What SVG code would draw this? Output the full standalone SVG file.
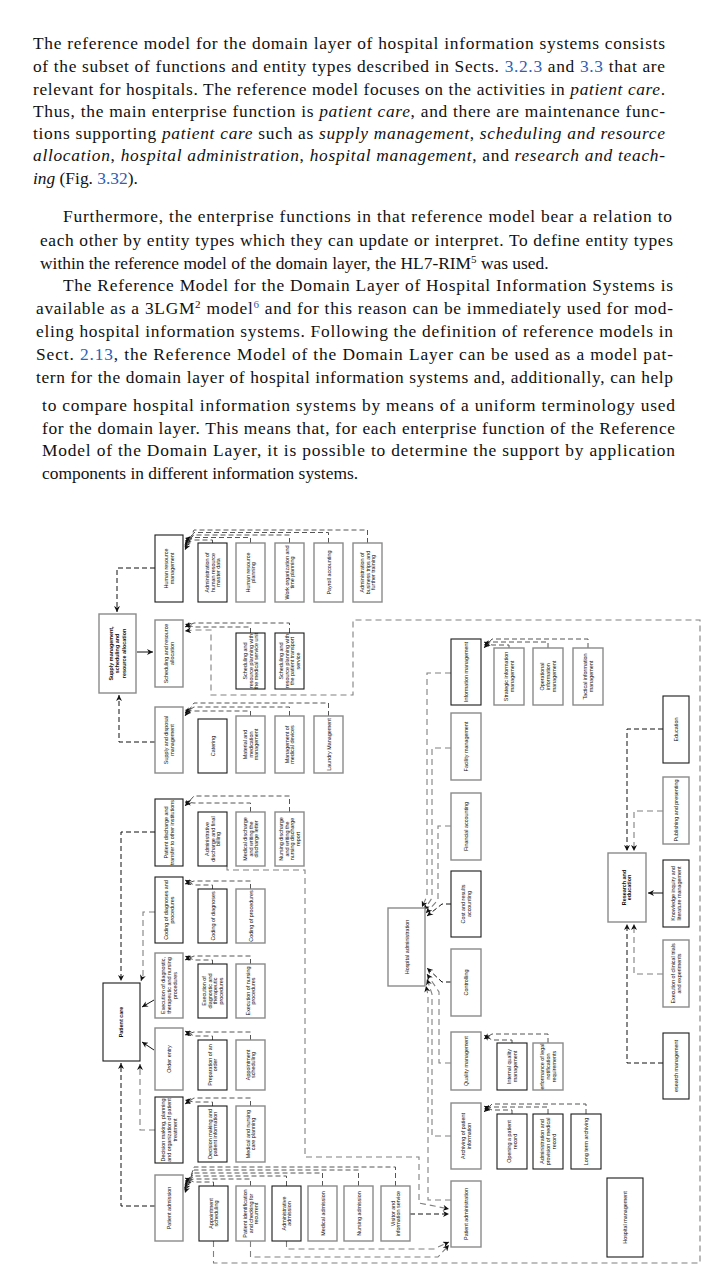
<svg xmlns="http://www.w3.org/2000/svg" width="725" height="1283" viewBox="0 0 725 1283">
<defs>
<style>
.p{font-family:"Liberation Serif","Times New Roman",serif;font-size:17.4px;fill:#111}
.i{font-style:italic}
.lk{fill:#2f5fb3}
.b{fill:#fff;stroke:#8a8a8a;stroke-width:1.4}
.k{fill:#fff;stroke:#1a1a1a;stroke-width:1.1}
.t{font-family:"Liberation Sans",Arial,sans-serif;font-size:5.4px;fill:#111;text-anchor:middle}
.tb{font-weight:bold}
.d{fill:none;stroke:#111;stroke-width:1;stroke-dasharray:5 3}
.e{fill:none;stroke:#555;stroke-width:1;stroke-dasharray:5 3}
.g{fill:none;stroke:#808080;stroke-width:1.1;stroke-dasharray:6 4}
.s{fill:none;stroke:#111;stroke-width:1}
</style>
<marker id="ah" viewBox="0 0 10 10" refX="10" refY="5" markerWidth="7" markerHeight="6" markerUnits="userSpaceOnUse" orient="auto"><path d="M0,0L10,5L0,10L3,5Z" fill="#111"/></marker>
</defs>
<rect width="725" height="1283" fill="#fff"/>

<g id="text">
<text class="p" x="33" y="48.5" textLength="632" lengthAdjust="spacing">The reference model for the domain layer of hospital information systems consists</text>
<text class="p" x="33" y="71.5" textLength="632" lengthAdjust="spacing">of the subset of functions and entity types described in Sects. <tspan class="lk">3.2.3</tspan> and <tspan class="lk">3.3</tspan> that are</text>
<text class="p" x="33" y="94.5" textLength="632" lengthAdjust="spacing">relevant for hospitals. The reference model focuses on the activities in <tspan class="i">patient care</tspan>.</text>
<text class="p" x="33" y="116.5" textLength="632" lengthAdjust="spacing">Thus, the main enterprise function is <tspan class="i">patient care</tspan>, and there are maintenance func-</text>
<text class="p" x="33" y="138.5" textLength="632" lengthAdjust="spacing">tions supporting <tspan class="i">patient care</tspan> such as <tspan class="i">supply management</tspan>, <tspan class="i">scheduling and resource</tspan></text>
<text class="p" x="33" y="160.5" textLength="632" lengthAdjust="spacing"><tspan class="i">allocation</tspan>, <tspan class="i">hospital administration</tspan>, <tspan class="i">hospital management</tspan>, and <tspan class="i">research and teach-</tspan></text>
<text class="p" x="33" y="183.5"><tspan class="i">ing</tspan> (Fig. <tspan class="lk">3.32</tspan>).</text>
<text class="p" x="63" y="221.5" textLength="609" lengthAdjust="spacing">Furthermore, the enterprise functions in that reference model bear a relation to</text>
<text class="p" x="40" y="245.5" textLength="633" lengthAdjust="spacing">each other by entity types which they can update or interpret. To define entity types</text>
<text class="p" x="40" y="268.5">within the reference model of the domain layer, the HL7-RIM<tspan dy="-6" font-size="11">5</tspan><tspan dy="6"> was used.</tspan></text>
<text class="p" x="63" y="290.5" textLength="610" lengthAdjust="spacing">The Reference Model for the Domain Layer of Hospital Information Systems is</text>
<text class="p" x="36" y="313.5" textLength="637" lengthAdjust="spacing">available as a 3LGM<tspan dy="-6" font-size="11">2</tspan><tspan dy="6"> model</tspan><tspan dy="-6" font-size="11" class="lk">6</tspan><tspan dy="6"> and for this reason can be immediately used for mod-</tspan></text>
<text class="p" x="36" y="336.5" textLength="637" lengthAdjust="spacing">eling hospital information systems. Following the definition of reference models in</text>
<text class="p" x="36" y="359.5" textLength="637" lengthAdjust="spacing">Sect. <tspan class="lk">2.13</tspan>, the Reference Model of the Domain Layer can be used as a model pat-</text>
<text class="p" x="36" y="382.5" textLength="637" lengthAdjust="spacing">tern for the domain layer of hospital information systems and, additionally, can help</text>
<text class="p" x="42" y="410.5" textLength="633" lengthAdjust="spacing">to compare hospital information systems by means of a uniform terminology used</text>
<text class="p" x="42" y="433.5" textLength="633" lengthAdjust="spacing">for the domain layer. This means that, for each enterprise function of the Reference</text>
<text class="p" x="42" y="455.5" textLength="633" lengthAdjust="spacing">Model of the Domain Layer, it is possible to determine the support by application</text>
<text class="p" x="42" y="478.5">components in different information systems.</text>
</g>

<g id="connectors">
<g marker-end="url(#ah)">
<path class="e" d="M212.5,543V540H194L185,538"/>
<path class="e" d="M250.5,543V537.5H194L185,541"/>
<path class="e" d="M289.5,543V535H194L185,544"/>
<path class="e" d="M328.5,543V532.5H194L185,547"/>
<path class="e" d="M367.5,543V530H194L185,550"/>
<path class="e" d="M250.5,633V627H194L185,624"/>
<path class="e" d="M289.5,633V623H194L185,627"/>
<path class="g" d="M213.5,1241V1263H700V620H353V695H211V630H194L185,631"/>
<path class="e" d="M250.5,716V711H194L185,710"/>
<path class="e" d="M289.5,716V707H194L185,713"/>
<path class="e" d="M328.5,716V703H194L185,716"/>
<path class="e" d="M250.5,812V803H194L185,802"/>
<path class="e" d="M289.5,812V796H194L185,806"/>
<path class="e" d="M212.5,889V885H194L185,880"/>
<path class="e" d="M250.5,889V881H194L185,884"/>
<path class="e" d="M212.5,964V960H194L185,956"/>
<path class="e" d="M250.5,964V956H194L185,960"/>
<path class="e" d="M212.5,1040V1036H194L185,1031"/>
<path class="e" d="M250.5,1040V1032H194L185,1035"/>
<path class="e" d="M212.5,1106V1102H194L185,1100"/>
<path class="e" d="M250.5,1106V1098H194L185,1104"/>
<path class="e" d="M213.5,1186V1182H194L185,1178"/>
<path class="e" d="M250.5,1186V1179H194L185,1181"/>
<path class="e" d="M286.5,1186V1176H194L185,1184"/>
<path class="e" d="M322.5,1186V1173H194L185,1187"/>
<path class="e" d="M358.5,1186V1170H194L185,1190"/>
<path class="e" d="M395.5,1186V1167H194L185,1193"/>
<path class="e" d="M509,648V645H492L484,642"/>
<path class="e" d="M548,648V642H492L484,645"/>
<path class="e" d="M588,648V639H492L484,648"/>
<path class="e" d="M512,1043V1040H492L484,1035"/>
<path class="e" d="M548,1043V1034H492L484,1039"/>
<path class="e" d="M512,1114V1110H492L484,1106"/>
<path class="e" d="M548,1114V1107H492L484,1109"/>
<path class="e" d="M586,1114V1104H492L484,1112"/>
<path class="d" d="M663,729H627V851"/>
<path class="g" d="M663,811H634V851"/>
<path class="s" d="M663,893H648"/>
<path class="g" d="M663,974H634V924"/>
<path class="d" d="M663,1063H627V924"/>
<path class="d" d="M155,568H117V612"/>
<path class="s" d="M137,652H153"/>
<path class="d" d="M155,742H119V695"/>
<path class="d" d="M155,832H121V981"/>
<path class="g" d="M155,912H143V975L141,981"/>
<path class="s" d="M154,1000L142,1007"/>
<path class="s" d="M154,1050L142,1042"/>
<path class="g" d="M155,1130H140V1064"/>
<path class="d" d="M155,1206H121V1063"/>
<path class="g" d="M451,673H427V896L422,907"/>
<path class="g" d="M451,748H432V898L424,910"/>
<path class="g" d="M451,826H438V900L426,913"/>
<path class="d" d="M451,904H442L427,916"/>
<path class="d" d="M451,982H442L427,968"/>
<path class="g" d="M451,1063H439V992L427,974"/>
<path class="g" d="M451,1136H432V994L427,979"/>
<path class="g" d="M451,1200H428V995L426,986"/>
<path class="g" d="M227,866V870H305V1157H419V1203L449,1209"/>
<path class="d" d="M410,1214H449"/>
<path class="g" d="M250.5,1241V1257H438L449,1245"/>
<path class="g" d="M286.5,1241V1249H434L449,1242"/>
</g>
</g>

<g id="n-sms"><rect class="b" x="99" y="614" width="37" height="79"/><text class="t tb" font-size="5.6" transform="translate(117.5,653.5) rotate(-90)"><tspan x="0" dy="-5">Supply management,</tspan><tspan x="0" dy="6.5">scheduling and</tspan><tspan x="0" dy="6.5">resource allocation</tspan></text></g>
<g id="n-pc"><rect class="k" x="103" y="983" width="37" height="78"/><text class="t tb" font-size="4.6" transform="translate(121.5,1022) rotate(-90)"><tspan x="0" dy="1.6">Patient care</tspan></text></g>

<g id="n-hrm"><rect class="k" x="155" y="535" width="28" height="67"/><text class="t" transform="translate(169,568.5) rotate(-90)"><tspan x="0" dy="-1">Human resource</tspan><tspan x="0" dy="5.8">management</tspan></text></g>
<g id="n-hrm1"><rect class="k" x="198" y="543" width="29" height="59"/><text class="t" transform="translate(212.5,572.5) rotate(-90)"><tspan x="0" dy="-3.8">Administration of</tspan><tspan x="0" dy="5.8">human resource</tspan><tspan x="0" dy="5.8">master data</tspan></text></g>
<g id="n-hrm2"><rect class="b" x="236" y="543" width="29" height="59"/><text class="t" transform="translate(250.5,572.5) rotate(-90)"><tspan x="0" dy="-1">Human resource</tspan><tspan x="0" dy="5.8">planning</tspan></text></g>
<g id="n-hrm3"><rect class="b" x="275" y="543" width="29" height="59"/><text class="t" transform="translate(289.5,572.5) rotate(-90)"><tspan x="0" dy="-1">Work organization and</tspan><tspan x="0" dy="5.8">time planning</tspan></text></g>
<g id="n-hrm4"><rect class="b" x="314" y="543" width="29" height="59"/><text class="t" transform="translate(328.5,572.5) rotate(-90)"><tspan x="0" dy="2">Payroll accounting</tspan></text></g>
<g id="n-hrm5"><rect class="b" x="353" y="543" width="29" height="59"/><text class="t" transform="translate(367.5,572.5) rotate(-90)"><tspan x="0" dy="-3.8">Administration of</tspan><tspan x="0" dy="5.8">business trips and</tspan><tspan x="0" dy="5.8">further training</tspan></text></g>

<g id="n-sra"><rect class="b" x="155" y="620" width="28" height="67"/><text class="t" transform="translate(169,653.5) rotate(-90)"><tspan x="0" dy="-1">Scheduling and resource</tspan><tspan x="0" dy="5.8">allocation</tspan></text></g>
<g id="n-sra1"><rect class="k" x="236" y="633" width="29" height="56"/><text class="t" transform="translate(250.5,661) rotate(-90)"><tspan x="0" dy="-3.8">Scheduling and</tspan><tspan x="0" dy="5.8">resource planning with</tspan><tspan x="0" dy="5.8">the medical service unit</tspan></text></g>
<g id="n-sra2"><rect class="k" x="275" y="633" width="29" height="56"/><text class="t" transform="translate(289.5,661) rotate(-90)"><tspan x="0" dy="-6.7">Scheduling and</tspan><tspan x="0" dy="5.8">resource planning with</tspan><tspan x="0" dy="5.8">the patient transport</tspan><tspan x="0" dy="5.8">service</tspan></text></g>

<g id="n-sdm"><rect class="b" x="155" y="707" width="28" height="66"/><text class="t" transform="translate(169,740) rotate(-90)"><tspan x="0" dy="-1">Supply and disposal</tspan><tspan x="0" dy="5.8">management</tspan></text></g>
<g id="n-sdm1"><rect class="k" x="198" y="719" width="29" height="54"/><text class="t" transform="translate(212.5,746) rotate(-90)"><tspan x="0" dy="2">Catering</tspan></text></g>
<g id="n-sdm2"><rect class="b" x="236" y="716" width="29" height="57"/><text class="t" transform="translate(250.5,744.5) rotate(-90)"><tspan x="0" dy="-3.8">Material and</tspan><tspan x="0" dy="5.8">medication</tspan><tspan x="0" dy="5.8">management</tspan></text></g>
<g id="n-sdm3"><rect class="b" x="275" y="716" width="29" height="57"/><text class="t" transform="translate(289.5,744.5) rotate(-90)"><tspan x="0" dy="-1">Management of</tspan><tspan x="0" dy="5.8">medical devices</tspan></text></g>
<g id="n-sdm4"><rect class="b" x="314" y="716" width="29" height="57"/><text class="t" transform="translate(328.5,744.5) rotate(-90)"><tspan x="0" dy="2">Laundry Management</tspan></text></g>

<g id="n-pdt"><rect class="k" x="155" y="799" width="28" height="67"/><text class="t" transform="translate(169,832.5) rotate(-90)"><tspan x="0" dy="-1">Patient discharge and</tspan><tspan x="0" dy="5.8">transfer to other institutions</tspan></text></g>
<g id="n-pdt1"><rect class="k" x="198" y="812" width="29" height="54"/><text class="t" transform="translate(212.5,839) rotate(-90)"><tspan x="0" dy="-3.8">Administrative</tspan><tspan x="0" dy="5.8">discharge and final</tspan><tspan x="0" dy="5.8">billing</tspan></text></g>
<g id="n-pdt2"><rect class="b" x="236" y="812" width="29" height="54"/><text class="t" transform="translate(250.5,839) rotate(-90)"><tspan x="0" dy="-3.8">Medical discharge</tspan><tspan x="0" dy="5.8">and writing the</tspan><tspan x="0" dy="5.8">discharge letter</tspan></text></g>
<g id="n-pdt3"><rect class="b" x="275" y="812" width="29" height="54"/><text class="t" transform="translate(289.5,839) rotate(-90)"><tspan x="0" dy="-6.7">Nursing discharge</tspan><tspan x="0" dy="5.8">and writing the</tspan><tspan x="0" dy="5.8">nursing discharge</tspan><tspan x="0" dy="5.8">report</tspan></text></g>

<g id="n-cdp"><rect class="k" x="155" y="877" width="28" height="66"/><text class="t" transform="translate(169,910) rotate(-90)"><tspan x="0" dy="-1">Coding of diagnoses and</tspan><tspan x="0" dy="5.8">procedures</tspan></text></g>
<g id="n-cdp1"><rect class="k" x="198" y="889" width="29" height="54"/><text class="t" transform="translate(212.5,916) rotate(-90)"><tspan x="0" dy="2">Coding of diagnoses</tspan></text></g>
<g id="n-cdp2"><rect class="b" x="236" y="889" width="29" height="54"/><text class="t" transform="translate(250.5,916) rotate(-90)"><tspan x="0" dy="2">Coding of procedures</tspan></text></g>

<g id="n-exe"><rect class="b" x="155" y="953" width="28" height="65"/><text class="t" transform="translate(169,985.5) rotate(-90)"><tspan x="0" dy="-3.8">Execution of diagnostic,</tspan><tspan x="0" dy="5.8">therapeutic and nursing</tspan><tspan x="0" dy="5.8">procedures</tspan></text></g>
<g id="n-exe1"><rect class="k" x="198" y="964" width="29" height="54"/><text class="t" transform="translate(212.5,991) rotate(-90)"><tspan x="0" dy="-6.7">Execution of</tspan><tspan x="0" dy="5.8">diagnostic and</tspan><tspan x="0" dy="5.8">therapeutic</tspan><tspan x="0" dy="5.8">procedures</tspan></text></g>
<g id="n-exe2"><rect class="b" x="236" y="964" width="29" height="54"/><text class="t" transform="translate(250.5,991) rotate(-90)"><tspan x="0" dy="-1">Execution of nursing</tspan><tspan x="0" dy="5.8">procedures</tspan></text></g>

<g id="n-ord"><rect class="b" x="155" y="1028" width="28" height="62"/><text class="t" transform="translate(169,1059) rotate(-90)"><tspan x="0" dy="2">Order entry</tspan></text></g>
<g id="n-ord1"><rect class="k" x="198" y="1040" width="29" height="50"/><text class="t" transform="translate(212.5,1065) rotate(-90)"><tspan x="0" dy="-1">Preparation of an</tspan><tspan x="0" dy="5.8">order</tspan></text></g>
<g id="n-ord2"><rect class="b" x="236" y="1040" width="29" height="50"/><text class="t" transform="translate(250.5,1065) rotate(-90)"><tspan x="0" dy="-1">Appointment</tspan><tspan x="0" dy="5.8">scheduling</tspan></text></g>

<g id="n-dec"><rect class="k" x="155" y="1097" width="28" height="66"/><text class="t" transform="translate(169,1130) rotate(-90)"><tspan x="0" dy="-3.8">Decision making, planning</tspan><tspan x="0" dy="5.8">and organization of patient</tspan><tspan x="0" dy="5.8">treatment</tspan></text></g>
<g id="n-dec1"><rect class="k" x="198" y="1106" width="29" height="56"/><text class="t" transform="translate(212.5,1134) rotate(-90)"><tspan x="0" dy="-1">Decision making and</tspan><tspan x="0" dy="5.8">patient information</tspan></text></g>
<g id="n-dec2"><rect class="b" x="236" y="1106" width="29" height="56"/><text class="t" transform="translate(250.5,1134) rotate(-90)"><tspan x="0" dy="-1">Medical and nursing</tspan><tspan x="0" dy="5.8">care planning</tspan></text></g>

<g id="n-adm"><rect class="b" x="155" y="1175" width="28" height="66"/><text class="t" transform="translate(169,1208) rotate(-90)"><tspan x="0" dy="2">Patient admission</tspan></text></g>
<g id="n-adm1"><rect class="k" x="199" y="1186" width="29" height="55"/><text class="t" transform="translate(213.5,1213.5) rotate(-90)"><tspan x="0" dy="-1">Appointment</tspan><tspan x="0" dy="5.8">scheduling</tspan></text></g>
<g id="n-adm2"><rect class="b" x="236" y="1186" width="29" height="55"/><text class="t" transform="translate(250.5,1213.5) rotate(-90)"><tspan x="0" dy="-3.8">Patient identification</tspan><tspan x="0" dy="5.8">and checking for</tspan><tspan x="0" dy="5.8">recurrent</tspan></text></g>
<g id="n-adm3"><rect class="k" x="272" y="1186" width="29" height="55"/><text class="t" transform="translate(286.5,1213.5) rotate(-90)"><tspan x="0" dy="-1">Administrative</tspan><tspan x="0" dy="5.8">admission</tspan></text></g>
<g id="n-adm4"><rect class="b" x="308" y="1186" width="29" height="55"/><text class="t" transform="translate(322.5,1213.5) rotate(-90)"><tspan x="0" dy="2">Medical admission</tspan></text></g>
<g id="n-adm5"><rect class="b" x="344" y="1186" width="29" height="55"/><text class="t" transform="translate(358.5,1213.5) rotate(-90)"><tspan x="0" dy="2">Nursing admission</tspan></text></g>
<g id="n-adm6"><rect class="b" x="381" y="1186" width="29" height="55"/><text class="t" transform="translate(395.5,1213.5) rotate(-90)"><tspan x="0" dy="-1">Visitor and</tspan><tspan x="0" dy="5.8">information service</tspan></text></g>

<g id="n-ha"><rect class="b" x="388" y="908" width="37" height="78"/><text class="t" transform="translate(406.5,947) rotate(-90)"><tspan x="0" dy="2">Hospital administration</tspan></text></g>

<g id="n-im"><rect class="k" x="451" y="639" width="30" height="66"/><text class="t" transform="translate(466,672) rotate(-90)"><tspan x="0" dy="2">Information management</tspan></text></g>
<g id="n-im1"><rect class="b" x="494" y="648" width="30" height="57"/><text class="t" transform="translate(509,676.5) rotate(-90)"><tspan x="0" dy="-1">Strategic information</tspan><tspan x="0" dy="5.8">management</tspan></text></g>
<g id="n-im2"><rect class="b" x="533" y="648" width="30" height="57"/><text class="t" transform="translate(548,676.5) rotate(-90)"><tspan x="0" dy="-3.8">Operational</tspan><tspan x="0" dy="5.8">information</tspan><tspan x="0" dy="5.8">management</tspan></text></g>
<g id="n-im3"><rect class="b" x="573" y="648" width="30" height="57"/><text class="t" transform="translate(588,676.5) rotate(-90)"><tspan x="0" dy="-1">Tactical information</tspan><tspan x="0" dy="5.8">management</tspan></text></g>
<g id="n-fm"><rect class="b" x="451" y="713" width="30" height="67"/><text class="t" transform="translate(466,746.5) rotate(-90)"><tspan x="0" dy="2">Facility management</tspan></text></g>
<g id="n-fa"><rect class="b" x="451" y="793" width="30" height="67"/><text class="t" transform="translate(466,826.5) rotate(-90)"><tspan x="0" dy="2">Financial accounting</tspan></text></g>
<g id="n-cra"><rect class="k" x="451" y="871" width="30" height="66"/><text class="t" transform="translate(466,904) rotate(-90)"><tspan x="0" dy="-1">Cost and results</tspan><tspan x="0" dy="5.8">accounting</tspan></text></g>
<g id="n-ctl"><rect class="b" x="451" y="949" width="30" height="67"/><text class="t" transform="translate(466,982.5) rotate(-90)"><tspan x="0" dy="2">Controlling</tspan></text></g>
<g id="n-qm"><rect class="b" x="451" y="1032" width="30" height="58"/><text class="t" transform="translate(466,1061) rotate(-90)"><tspan x="0" dy="2">Quality management</tspan></text></g>
<g id="n-qm1"><rect class="k" x="497" y="1043" width="30" height="47"/><text class="t" transform="translate(512,1066.5) rotate(-90)"><tspan x="0" dy="-1">Internal quality</tspan><tspan x="0" dy="5.8">management</tspan></text></g>
<g id="n-qm2"><rect class="b" x="533" y="1043" width="30" height="47"/><text class="t" transform="translate(548,1066.5) rotate(-90)"><tspan x="0" dy="-3.8">erformance of legal</tspan><tspan x="0" dy="5.8">notification</tspan><tspan x="0" dy="5.8">requirements</tspan></text></g>
<g id="n-arc"><rect class="b" x="451" y="1103" width="30" height="66"/><text class="t" transform="translate(466,1136) rotate(-90)"><tspan x="0" dy="-1">Archiving of patient</tspan><tspan x="0" dy="5.8">information</tspan></text></g>
<g id="n-arc1"><rect class="k" x="497" y="1114" width="30" height="55"/><text class="t" transform="translate(512,1141.5) rotate(-90)"><tspan x="0" dy="-1">Opening a patient</tspan><tspan x="0" dy="5.8">record</tspan></text></g>
<g id="n-arc2"><rect class="k" x="533" y="1114" width="30" height="55"/><text class="t" transform="translate(548,1141.5) rotate(-90)"><tspan x="0" dy="-3.8">Administration and</tspan><tspan x="0" dy="5.8">provision of medical</tspan><tspan x="0" dy="5.8">record</tspan></text></g>
<g id="n-arc3"><rect class="k" x="571" y="1114" width="30" height="55"/><text class="t" transform="translate(586,1141.5) rotate(-90)"><tspan x="0" dy="2">Long term archiving</tspan></text></g>
<g id="n-pa"><rect class="b" x="451" y="1181" width="30" height="66"/><text class="t" transform="translate(466,1214) rotate(-90)"><tspan x="0" dy="2">Patient administration</tspan></text></g>

<g id="n-hm"><rect class="k" x="607" y="1178" width="36" height="79"/><text class="t" transform="translate(625,1217.5) rotate(-90)"><tspan x="0" dy="2">Hospital management</tspan></text></g>

<g id="n-re"><rect class="b" x="608" y="853" width="38" height="69"/><text class="t tb" font-size="4.6" transform="translate(627,887.5) rotate(-90)"><tspan x="0" dy="-1">Research and</tspan><tspan x="0" dy="5.2">education</tspan></text></g>
<g id="n-edu"><rect class="k" x="663" y="696" width="26" height="67"/><text class="t" transform="translate(676,729.5) rotate(-90)"><tspan x="0" dy="2">Education</tspan></text></g>
<g id="n-pub"><rect class="b" x="663" y="777" width="26" height="67"/><text class="t" transform="translate(676,810.5) rotate(-90)"><tspan x="0" dy="2">Publishing and presenting</tspan></text></g>
<g id="n-kno"><rect class="k" x="663" y="860" width="26" height="67"/><text class="t" transform="translate(676,893.5) rotate(-90)"><tspan x="0" dy="-1">Knowledge inquiry and</tspan><tspan x="0" dy="5.8">literature management</tspan></text></g>
<g id="n-ect"><rect class="b" x="663" y="940" width="26" height="67"/><text class="t" transform="translate(676,973.5) rotate(-90)"><tspan x="0" dy="-1">Execution of clinical trials</tspan><tspan x="0" dy="5.8">and experiments</tspan></text></g>
<g id="n-rm"><rect class="k" x="663" y="1033" width="26" height="66"/><text class="t" transform="translate(676,1066) rotate(-90)"><tspan x="0" dy="2">esearch management</tspan></text></g>
</svg>
